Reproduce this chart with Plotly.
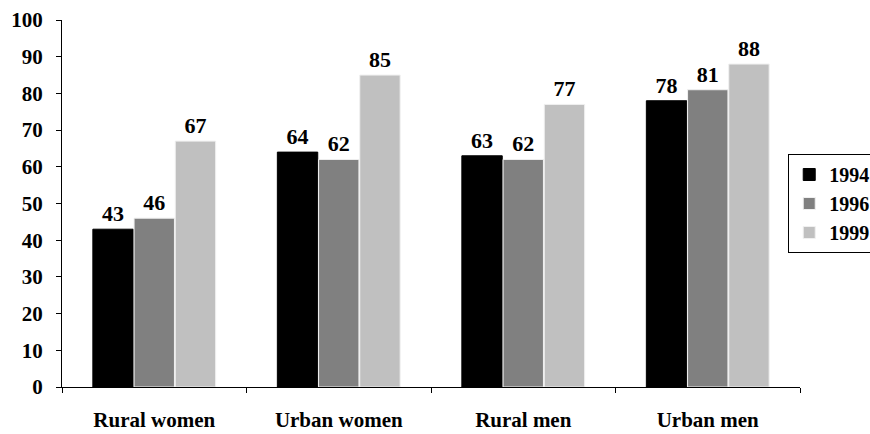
import plotly.graph_objects as go

# Share of respondents by group and survey year
categories = ["Rural women", "Urban women", "Rural men", "Urban men"]
years = ["1994", "1996", "1999"]
values_1994 = [43, 64, 63, 78]
values_1996 = [46, 62, 62, 81]
values_1999 = [67, 85, 77, 88]
y_ticks = [0, 10, 20, 30, 40, 50, 60, 70, 80, 90, 100]

series = [values_1994, values_1996, values_1999]
fills = ["#000000", "#808080", "#c0c0c0"]
edges = ["#000000", "#f0f0f0", "#f0f0f0"]

FONT = "Liberation Serif"

fig = go.Figure()
for year, vals, fill, edge in zip(years, series, fills, edges):
    fig.add_trace(go.Bar(
        x=categories,
        y=vals,
        name=year,
        marker=dict(color=fill, line=dict(color=edge, width=1)),
        text=[str(v) for v in vals],
        textposition="outside",
        textfont=dict(family=FONT, size=22, color="#000000", weight="bold"),
        cliponaxis=False,
    ))

fig.update_layout(
    width=870,
    height=434,
    margin=dict(l=62, r=70, t=20, b=47, autoexpand=False),
    paper_bgcolor="#ffffff",
    plot_bgcolor="#ffffff",
    barmode="group",
    bargap=0.33,
    bargroupgap=0.02,
    font=dict(family=FONT, size=20, color="#000000", weight="bold"),
    showlegend=True,
    legend=dict(
        xref="container",
        yref="container",
        x=0.906,
        xanchor="left",
        y=1 - 154 / 434,
        yanchor="top",
        bordercolor="#000000",
        borderwidth=1,
        bgcolor="#ffffff",
        font=dict(family=FONT, size=20, color="#000000", weight="bold"),
        itemwidth=30,
        tracegroupgap=0,
    ),
)

fig.update_xaxes(
    type="category",
    range=[-0.5, 3.5],
    automargin=False,
    showline=True,
    linecolor="#000000",
    linewidth=1,
    ticks="outside",
    tickson="boundaries",
    ticklen=5,
    tickcolor="#000000",
    ticklabelstandoff=14,
    tickfont=dict(family=FONT, size=21, color="#000000", weight="bold"),
    showgrid=False,
    zeroline=False,
)

fig.update_yaxes(
    range=[0, 100],
    tickvals=y_ticks,
    automargin=False,
    showline=True,
    linecolor="#000000",
    linewidth=1,
    ticks="outside",
    ticklen=5,
    tickcolor="#000000",
    ticklabelstandoff=9,
    tickfont=dict(family=FONT, size=21, color="#000000", weight="bold"),
    showgrid=False,
    zeroline=False,
)

fig.write_html("out.html")
